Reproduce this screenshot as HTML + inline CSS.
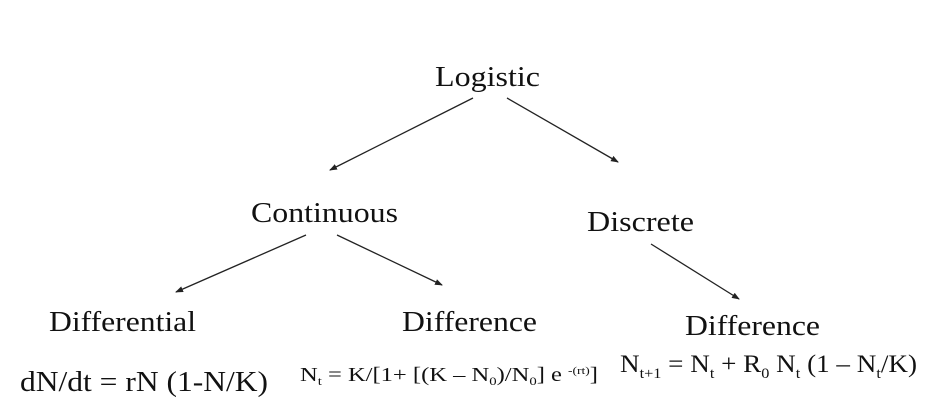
<!DOCTYPE html>
<html><head><style>html,body{margin:0;padding:0;background:#fff;}svg{display:block;}</style></head>
<body>
<svg width="928" height="415" viewBox="0 0 928 415" xmlns="http://www.w3.org/2000/svg" font-family="'Liberation Serif', serif" fill="#111">
<defs><marker id="a" markerWidth="8" markerHeight="6" refX="7" refY="3" orient="auto" markerUnits="userSpaceOnUse"><path d="M0,0 L8,3 L0,6 z" fill="#222"/></marker></defs>
<g stroke="#222" stroke-width="1.3" marker-end="url(#a)">
<line x1="473" y1="98" x2="330" y2="170"/>
<line x1="507" y1="98" x2="618" y2="162"/>
<line x1="306" y1="235" x2="176" y2="292"/>
<line x1="337" y1="235" x2="442" y2="285"/>
<line x1="651" y1="244" x2="739" y2="299"/>
</g>
<g font-size="29">
<text x="435" y="86" textLength="105" lengthAdjust="spacingAndGlyphs">Logistic</text>
<text x="251" y="222" textLength="147" lengthAdjust="spacingAndGlyphs">Continuous</text>
<text x="587" y="231" textLength="107" lengthAdjust="spacingAndGlyphs">Discrete</text>
<text x="49" y="331" textLength="147" lengthAdjust="spacingAndGlyphs">Differential</text>
<text x="402" y="331" textLength="135" lengthAdjust="spacingAndGlyphs">Difference</text>
<text x="685" y="335" textLength="135" lengthAdjust="spacingAndGlyphs">Difference</text>
<text x="20" y="391" font-size="28" textLength="248" lengthAdjust="spacingAndGlyphs">dN/dt = rN (1-N/K)</text>
</g>
<text x="300" y="381" font-size="20" textLength="298" lengthAdjust="spacingAndGlyphs">N<tspan font-size="12" dy="4">t</tspan><tspan dy="-4"> = K/[1+ [(K – N</tspan><tspan font-size="12" dy="4">0</tspan><tspan dy="-4">)/N</tspan><tspan font-size="12" dy="4">0</tspan><tspan dy="-4">] e </tspan><tspan font-size="11" dy="-7">-(rt)</tspan><tspan dy="7">]</tspan></text>
<text x="620" y="372" font-size="25" textLength="297" lengthAdjust="spacingAndGlyphs">N<tspan font-size="15" dy="6">t+1</tspan><tspan dy="-6"> = N</tspan><tspan font-size="15" dy="6">t</tspan><tspan dy="-6"> + R</tspan><tspan font-size="15" dy="6">0</tspan><tspan dy="-6"> N</tspan><tspan font-size="15" dy="6">t</tspan><tspan dy="-6"> (1 – N</tspan><tspan font-size="15" dy="6">t</tspan><tspan dy="-6">/K)</tspan></text>
</svg>
</body></html>
